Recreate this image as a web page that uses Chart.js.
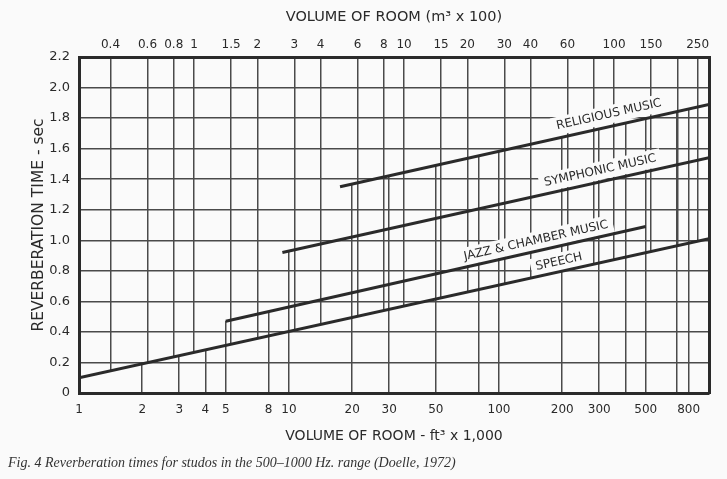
<!DOCTYPE html>
<html>
<head>
<meta charset="utf-8">
<script src="https://cdn.jsdelivr.net/npm/chart.js@4.4.0/dist/chart.umd.min.js"></script>
<style>
  html, body { margin: 0; padding: 0; background: #fafafa; }
  #wrap { position: relative; width: 727px; height: 479px; }
  #caption {
    position: absolute; left: 8px; top: 455px;
    font: italic 14px "Liberation Serif", serif; color: #333;
  }
</style>
</head>
<body>
<div id="wrap">
  <canvas id="chart" width="727" height="479"></canvas>
  <div id="caption">Fig. 4 Reverberation times for studos in the 500–1000 Hz. range (Doelle, 1972)</div>
</div>
<script>
// volume of room, ft3 x 1,000 (bottom axis)
const ftLabels = [1, 2, 3, 4, 5, 8, 10, 20, 30, 50, 100, 200, 300, 500, 800];
const ftGridExtra = [80, 400, 700];
// volume of room, m3 x 100 (top axis)
const m3Labels = [0.4, 0.6, 0.8, 1, 1.5, 2, 3, 4, 6, 8, 10, 15, 20, 30, 40, 60, 100, 150, 250];
const m3GridExtra = [80, 200];
const timeTicks = [0, 0.2, 0.4, 0.6, 0.8, 1.0, 1.2, 1.4, 1.6, 1.8, 2.0, 2.2];

const speechVolume = [1, 1000];
const speechTime = [0.1, 1.01];
const jazzVolume = [5, 500];
const jazzTime = [0.47, 1.09];
const symphonicVolume = [9.3, 1000];
const symphonicTime = [0.92, 1.54];
const religiousVolume = [17.5, 1000];
const religiousTime = [1.35, 1.89];

const ftPerM3 = 3.5315; // 100 m3 = 3.5315 x 1,000 ft3

const ink = '#2a2a2a';
const gridInk = '#4a4a4a';
const letterFont = 'DejaVu Sans';

function pts(xs, ys) {
    return xs.map((x, i) => ({ x: x, y: ys[i] }));
}

function lineSet(label, xs, ys) {
    return {
        label: label,
        data: pts(xs, ys),
        borderColor: ink,
        borderWidth: 3,
        pointRadius: 0,
        xAxisID: 'x',
        yAxisID: 'y',
    };
}

// rotated labels sitting on each line
const lineLabels = {
    id: 'lineLabels',
    beforeDatasetsDraw(chart, args, opts) {
        const ctx = chart.ctx;
        const xs = chart.scales.x;
        const ys = chart.scales.y;
        opts.items.forEach(item => {
            const meta = chart.getDatasetMeta(item.dataset);
            const p0 = meta.data[0];
            const p1 = meta.data[meta.data.length - 1];
            const angle = Math.atan2(p1.y - p0.y, p1.x - p0.x);
            const px = xs.getPixelForValue(item.at[0]);
            const py = ys.getPixelForValue(item.at[1]);
            ctx.save();
            ctx.translate(px, py);
            ctx.rotate(angle);
            ctx.font = '12px "' + letterFont + '"';
            const w = ctx.measureText(item.text).width;
            ctx.fillStyle = '#fafafa';
            ctx.fillRect(-w / 2 - 5, -9, w + 10, 18);
            ctx.fillStyle = ink;
            ctx.textAlign = 'center';
            ctx.textBaseline = 'middle';
            ctx.fillText(item.text, 0, 0);
            ctx.restore();
        });
    }
};

// m3 grid lines hang from the top down to the speech line,
// ft3 grid lines rise from the bottom up to the highest line above them
const splitGrid = {
    id: 'splitGrid',
    beforeDraw(chart) {
        const area = chart.chartArea;
        const ends = i => {
            const d = chart.getDatasetMeta(i).data;
            return [d[0], d[d.length - 1]];
        };
        const wrap = (scale, clipPath) => {
            if (scale._splitWrapped) return;
            const orig = scale.drawGrid;
            scale.drawGrid = function (ca) {
                const ctx = this.ctx;
                ctx.save();
                ctx.beginPath();
                clipPath(ctx);
                ctx.clip();
                orig.call(this, ca);
                ctx.restore();
            };
            scale._splitWrapped = true;
        };
        wrap(chart.scales.x2, ctx => {
            const [a, b] = ends(0);
            ctx.moveTo(area.left - 2, area.top - 2);
            ctx.lineTo(area.right + 2, area.top - 2);
            ctx.lineTo(area.right + 2, b.y);
            ctx.lineTo(a.x - 2, a.y);
            ctx.closePath();
        });
        wrap(chart.scales.x, ctx => {
            [0, 1, 2, 3].forEach(i => {
                const [a, b] = ends(i);
                ctx.moveTo(a.x - 2, a.y);
                ctx.lineTo(b.x + 2, b.y);
                ctx.lineTo(b.x + 2, area.bottom + 2);
                ctx.lineTo(a.x - 2, area.bottom + 2);
                ctx.closePath();
            });
        });
    }
};

new Chart(document.getElementById('chart'), {
    type: 'line',
    data: {
        datasets: [
            lineSet('Speech', speechVolume, speechTime),
            lineSet('Jazz & chamber music', jazzVolume, jazzTime),
            lineSet('Symphonic music', symphonicVolume, symphonicTime),
            lineSet('Religious music', religiousVolume, religiousTime),
        ]
    },
    plugins: [splitGrid, lineLabels],
    options: {
        responsive: false,
        animation: false,
        layout: { padding: { left: 0, right: 0, top: 0, bottom: 30 } },
        plugins: {
            legend: { display: false },
            tooltip: { enabled: false },
            lineLabels: {
                items: [
                    { dataset: 3, text: 'RELIGIOUS MUSIC', at: [334, 1.823] },
                    { dataset: 2, text: 'SYMPHONIC MUSIC', at: [303, 1.456] },
                    { dataset: 1, text: 'JAZZ & CHAMBER MUSIC', at: [150, 0.997] },
                    { dataset: 0, text: 'SPEECH', at: [193, 0.859] },
                ]
            }
        },
        scales: {
            x: {
                type: 'logarithmic',
                position: 'bottom',
                min: 1,
                max: 1000,
                afterBuildTicks: s => { s.ticks = ftLabels.concat(ftGridExtra).map(v => ({ value: v })); },
                afterFit: s => { s.height = 56; },
                grid: { color: gridInk, lineWidth: 1.5, drawTicks: false },
                border: { color: ink, width: 3 },
                ticks: {
                    autoSkip: false, maxRotation: 0, padding: 10, color: ink,
                    font: { family: letterFont, size: 12 },
                    callback: v => ftLabels.includes(v) ? String(v) : ''
                },
                title: {
                    display: true, text: 'VOLUME OF ROOM - ft³ x 1,000', color: ink,
                    font: { family: letterFont, size: 14 }, padding: { top: 0, bottom: 4 }
                }
            },
            x2: {
                type: 'logarithmic',
                position: 'top',
                min: 1 / ftPerM3,
                max: 1000 / ftPerM3,
                afterBuildTicks: s => { s.ticks = m3Labels.concat(m3GridExtra).map(v => ({ value: v })); },
                afterFit: s => { s.height = 57; },
                grid: { color: gridInk, lineWidth: 1.5, drawTicks: false },
                border: { color: ink, width: 3 },
                ticks: {
                    autoSkip: false, maxRotation: 0, padding: 5, color: ink,
                    font: { family: letterFont, size: 12 },
                    callback: v => m3Labels.includes(v) ? String(v) : ''
                },
                title: {
                    display: true, text: 'VOLUME OF ROOM (m³ x 100)', color: ink,
                    font: { family: letterFont, size: 14.5 }, padding: { top: 9, bottom: 0 }
                }
            },
            y: {
                type: 'linear',
                position: 'left',
                min: 0,
                max: 2.2,
                afterBuildTicks: s => { s.ticks = timeTicks.map(v => ({ value: v })); },
                afterFit: s => { s.width = 79; },
                grid: { color: gridInk, lineWidth: 1.5, drawTicks: false },
                border: { color: ink, width: 3 },
                ticks: {
                    padding: 9, color: ink,
                    font: { family: letterFont, size: 13 },
                    callback: v => v === 0 ? '0' : v.toFixed(1)
                },
                title: {
                    display: true, text: 'REVERBERATION TIME - sec', color: ink,
                    font: { family: letterFont, size: 15.5 }, padding: { top: 30, bottom: 0 }
                }
            },
            y2: {
                type: 'linear',
                position: 'right',
                min: 0,
                max: 2.2,
                afterFit: s => { s.width = 18; },
                grid: { display: false, drawTicks: false },
                border: { color: ink, width: 3 },
                ticks: { display: false }
            }
        }
    }
});
</script>
</body>
</html>
